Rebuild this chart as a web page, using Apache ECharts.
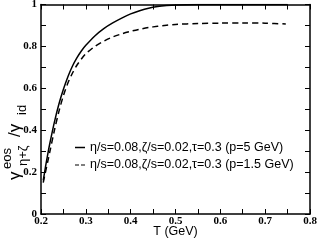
<!DOCTYPE html>
<html><head><meta charset="utf-8">
<script src="https://cdn.jsdelivr.net/npm/echarts@6/dist/echarts.min.js"></script>
<style>html,body{margin:0;padding:0;background:#fff}#c{width:318px;height:240px}</style>
</head><body><div id="c"></div>
<script>
const legendNames = ['η/s=0.08,ζ/s=0.02,τ=0.3 (p=5 GeV)', 'η/s=0.08,ζ/s=0.02,τ=0.3 (p=1.5 GeV)'];
const tSolid = [0.205,0.21,0.215,0.22,0.23,0.24,0.25,0.26,0.27,0.28,0.29,0.30,0.32,0.34,0.36,0.38,0.40,0.42,0.44,0.46,0.48,0.50,0.55,0.60,0.65,0.70,0.75];
const gSolid = [0.16,0.225,0.285,0.34,0.44,0.525,0.595,0.655,0.705,0.745,0.778,0.805,0.85,0.885,0.912,0.935,0.955,0.97,0.982,0.99,0.995,0.998,1.0,1.0,1.0,1.0,1.0];
const tDashed = [0.205,0.21,0.215,0.22,0.23,0.24,0.25,0.26,0.27,0.28,0.29,0.30,0.32,0.34,0.36,0.38,0.40,0.42,0.44,0.46,0.48,0.50,0.55,0.60,0.65,0.70,0.746];
const gDashed = [0.15,0.20,0.25,0.30,0.40,0.49,0.565,0.625,0.672,0.71,0.74,0.765,0.80,0.825,0.845,0.86,0.872,0.882,0.89,0.896,0.901,0.905,0.909,0.911,0.912,0.911,0.907];
const xTicks = [0.2,0.3,0.4,0.5,0.6,0.7,0.8];
const yTicks = [0,0.2,0.4,0.6,0.8,1];

const chart = echarts.init(document.getElementById('c'), null, {renderer:'canvas'});
const tickFont = {fontFamily:'Liberation Serif', fontWeight:'bold', fontSize:11, color:'#000'};
const axisCommon = {
  axisLine:{show:true, onZero:false, lineStyle:{color:'#000', width:1.5}},
  axisTick:{show:true, inside:true, length:5, lineStyle:{color:'#000', width:1}},
  minorTick:{show:true, splitNumber:2, length:5, lineStyle:{color:'#000', width:1}},
  splitLine:{show:false}
};
function fmt(v){ return Number.isInteger(v) ? String(v) : String(+v.toFixed(1)); }
chart.setOption({
  animation:false,
  backgroundColor:'#fff',
  grid:{left:41, right:8, top:4.5, bottom:26, containLabel:false, outerBoundsMode:'none'},
  legend:{
    orient:'vertical', left:75, top:141, padding:0, itemWidth:10, itemHeight:1.5, itemGap:4.5,
    textStyle:{fontFamily:'Liberation Sans', fontSize:12.5, color:'#000'},
    data:[
      {name:legendNames[0], icon:'rect', itemStyle:{color:'#000'}},
      {name:legendNames[1], icon:'path://M0 0H4V1H0Z M6 0H10V1H6Z', itemStyle:{color:'#000'}}
    ]
  },
  xAxis:[
    Object.assign({type:'value', min:xTicks[0], max:xTicks[xTicks.length-1], interval:0.1, position:'bottom',
      name:'T (GeV)', nameLocation:'middle', nameGap:11, nameMoveOverlap:false,
      nameTextStyle:{fontFamily:'Liberation Sans', fontSize:12.5, color:'#000'},
      axisLabel:Object.assign({margin:2, formatter:fmt}, tickFont)}, axisCommon),
    Object.assign({type:'value', min:xTicks[0], max:xTicks[xTicks.length-1], interval:0.1, position:'top',
      axisLabel:{show:false}}, axisCommon)
  ],
  yAxis:[
    Object.assign({type:'value', min:yTicks[0], max:yTicks[yTicks.length-1], interval:0.2, position:'left',
      axisLabel:Object.assign({margin:4, formatter:fmt}, tickFont)}, axisCommon),
    Object.assign({type:'value', min:yTicks[0], max:yTicks[yTicks.length-1], interval:0.2, position:'right',
      axisLabel:{show:false}}, axisCommon)
  ],
  graphic:[{
    type:'group', x:15, y:181, rotation:Math.PI/2,
    children:[
      {type:'text', x:1, y:0, style:{text:'γ', font:'17px "Liberation Sans"', fill:'#000', verticalAlign:'middle'}},
      {type:'text', x:12, y:-8, style:{text:'eos', font:'13px "Liberation Sans"', fill:'#000', verticalAlign:'middle'}},
      {type:'text', x:15, y:8, style:{text:'η+ζ', font:'13px "Liberation Sans"', fill:'#000', verticalAlign:'middle'}},
      {type:'text', x:44, y:0, style:{text:'/γ', font:'17px "Liberation Sans"', fill:'#000', verticalAlign:'middle'}},
      {type:'text', x:66, y:7, style:{text:'id', font:'13px "Liberation Sans"', fill:'#000', verticalAlign:'middle'}}
    ]
  }],
  series:[
    {name:legendNames[0], type:'line', showSymbol:false, symbol:'none', smooth:0.3,
      data:tSolid.map((t,i)=>[t,gSolid[i]]), lineStyle:{color:'#000', width:1.5, type:'solid'}, itemStyle:{color:'#000'}},
    {name:legendNames[1], type:'line', showSymbol:false, symbol:'none', smooth:0.3,
      data:tDashed.map((t,i)=>[t,gDashed[i]]), lineStyle:{color:'#000', width:1.5, type:[6,4]}, itemStyle:{color:'#000'}}
  ]
});
</script></body></html>
